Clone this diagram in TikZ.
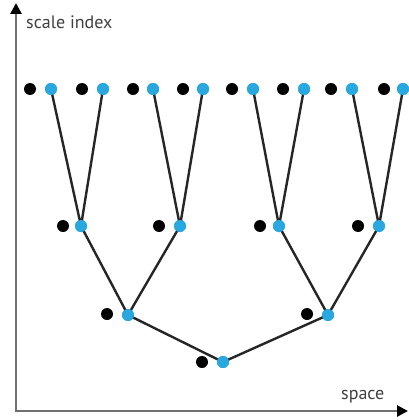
\documentclass[tikz,border=0pt]{standalone}
\usepackage{fontspec}
\setmainfont{PT Sans}
\usetikzlibrary{arrows.meta}
\definecolor{dotblue}{HTML}{29A8E0}
\definecolor{axisgray}{HTML}{707070}
\tikzset{
  bdot/.style={circle,fill=dotblue,inner sep=0pt,minimum size=12pt},
  kdot/.style={circle,fill=black,inner sep=0pt,minimum size=12pt},
  edge/.style={draw=black!85,line width=2.4pt},
  axis/.style={draw=axisgray,line width=2.6pt,-{Triangle[length=11pt,width=11pt,fill=black,color=black]}},
  lab/.style={font=\fontsize{18pt}{20pt}\selectfont,text=black!75,inner sep=0pt}
}
\begin{document}
\begin{tikzpicture}[x=1pt,y=-1pt]
\useasboundingbox (0,0) rectangle (408,420);
\coordinate (O) at (16,411);
\coordinate (Ytop) at (16,3);
\coordinate (Xend) at (408,411);
\draw[axis] (O) -- (Ytop);
\draw[axis] ([xshift=-1.3pt]O) -- (Xend);
\node[lab,anchor=west] (ylab) at (26,22) {scale index};
\node[lab,anchor=west] (xlab) at (341,397) {space};
% top row
\foreach \k/\b [count=\i] in {30/51,82/103,133/153,183/203,232/253,283/304,331/352,384/403}{
  \node[kdot] (t\i k) at (\k,89) {};
  \node[bdot] (t\i) at (\b,89) {};
}
% second row
\node[kdot] (s1k) at (63,226) {};  \node[bdot] (s1) at (81,226) {};
\node[kdot] (s2k) at (159,226) {}; \node[bdot] (s2) at (180,226) {};
\node[kdot] (s3k) at (260,226) {}; \node[bdot] (s3) at (279,226) {};
\node[kdot] (s4k) at (358,226) {}; \node[bdot] (s4) at (379,226) {};
% third row
\node[kdot] (r1k) at (107,314) {}; \node[bdot] (r1) at (128,315) {};
\node[kdot] (r2k) at (307,314) {}; \node[bdot] (r2) at (328,315) {};
% bottom
\node[kdot] (bk) at (202,362) {}; \node[bdot] (b) at (223,362) {};
% edges
\draw[edge] (t1.center) -- (s1.center) -- (t2.center);
\draw[edge] (t3.center) -- (s2.center) -- (t4.center);
\draw[edge] (t5.center) -- (s3.center) -- (t6.center);
\draw[edge] (t7.center) -- (s4.center) -- (t8.center);
\draw[edge] (s1.center) -- (r1.center) -- (s2.center);
\draw[edge] (s3.center) -- (r2.center) -- (s4.center);
\draw[edge] (r1.center) -- (b.center) -- (r2.center);
% redraw blue dots on top
\foreach \n in {t1,t2,t3,t4,t5,t6,t7,t8,s1,s2,s3,s4,r1,r2,b}{
  \fill[dotblue] (\n.center) circle (6pt);
}
\end{tikzpicture}
\end{document}
